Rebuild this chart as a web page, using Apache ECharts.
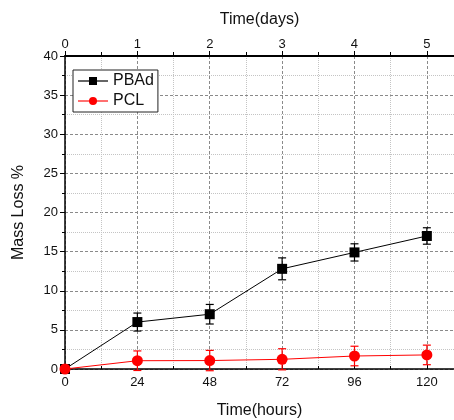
<!DOCTYPE html>
<html>
<head>
<meta charset="utf-8">
<script src="https://cdn.jsdelivr.net/npm/echarts@6/dist/echarts.min.js"></script>
<style>
html,body{margin:0;padding:0;background:#fff;}
#c{width:454px;height:420px;}
</style>
</head>
<body>
<div id="c"></div>
<script>
const hours = [0, 24, 48, 72, 96, 120];
const pbad = [0, 6.0, 7.0, 12.8, 14.9, 17.0];
const pbadErr = [0, 1.15, 1.25, 1.4, 1.1, 1.05];
const pcl = [0, 1.06, 1.08, 1.24, 1.66, 1.8];
const pclErr = [0, 1.25, 1.3, 1.35, 1.25, 1.25];
const dayTicks = [0, 1, 2, 3, 4, 5];
const hourTicks = [0, 24, 48, 72, 96, 120];

const FONT = '"Liberation Sans", Arial, sans-serif';
const chart = echarts.init(document.getElementById('c'), null, {renderer: 'canvas'});

function errData(vals, errs) {
  return hours.map((h, i) => [h, vals[i] - errs[i], vals[i] + errs[i]]);
}
function errRender(color) {
  return function (params, api) {
    const x = api.value(0), lo = api.value(1), hi = api.value(2);
    if (hi - lo <= 0) return null;
    const a = api.coord([x, hi]);
    const b = api.coord([x, lo]);
    const w = 4;
    const st = {stroke: color, lineWidth: 1.2};
    return {
      type: 'group',
      children: [
        {type: 'line', shape: {x1: a[0], y1: a[1], x2: b[0], y2: b[1]}, style: st},
        {type: 'line', shape: {x1: a[0] - w, y1: a[1], x2: a[0] + w, y2: a[1]}, style: st},
        {type: 'line', shape: {x1: b[0] - w, y1: b[1], x2: b[0] + w, y2: b[1]}, style: st}
      ]
    };
  };
}

const hMax = 129;
const splitMajor = {show: true, lineStyle: {color: '#8a8a8a', type: [3, 2], width: 1}};
const splitMinor = {show: true, lineStyle: {color: '#c4c4c4', type: [1, 1], width: 1}};

chart.setOption({
  animation: false,
  textStyle: {fontFamily: FONT},
  grid: {left: 65, right: 0, top: 56, bottom: 51, containLabel: false, outerBoundsMode: 'none'},
  legend: {
    data: [
      {name: 'PBAd', lineStyle: {color: '#666'}},
      {name: 'PCL', lineStyle: {color: '#ff7070'}}
    ],
    orient: 'vertical',
    left: 73, top: 70,
    itemWidth: 30, itemHeight: 10,
    itemGap: 4,
    padding: [3, 4, 3, 4],
    borderColor: '#222', borderWidth: 1,
    backgroundColor: '#fff',
    textStyle: {fontSize: 16, color: '#111', fontFamily: FONT}
  },
  xAxis: [
    {
      type: 'value', position: 'bottom', min: 0, max: hMax, interval: 24,
      name: 'Time(hours)', nameLocation: 'middle', nameGap: 34,
      nameTextStyle: {fontSize: 16, color: '#111'},
      axisLine: {show: true, onZero: false, lineStyle: {color: '#000', width: 1.5}},
      axisTick: {show: true, inside: true, length: 4, lineStyle: {color: '#000'}},
      minorTick: {show: true, splitNumber: 2, length: 3, lineStyle: {color: '#000'}},
      axisLabel: {fontSize: 13, color: '#111', margin: 7, showMaxLabel: false,
        formatter: v => hourTicks.indexOf(v) >= 0 ? String(v) : ''},
      splitLine: splitMajor,
      minorSplitLine: splitMinor
    },
    {
      type: 'value', position: 'top', min: 0, max: hMax / 24, interval: 1,
      name: 'Time(days)', nameLocation: 'middle', nameGap: 28,
      nameTextStyle: {fontSize: 16, color: '#111'},
      axisLine: {show: true, onZero: false, lineStyle: {color: '#000', width: 2}},
      axisTick: {show: true, length: 5, lineStyle: {color: '#000'}},
      minorTick: {show: true, splitNumber: 2, length: 4, lineStyle: {color: '#000'}},
      axisLabel: {fontSize: 13, color: '#111', margin: 5, showMaxLabel: false,
        formatter: v => dayTicks.indexOf(v) >= 0 ? String(v) : ''},
      splitLine: {show: false}
    }
  ],
  yAxis: {
    type: 'value', min: 0, max: 40, interval: 5,
    name: 'Mass Loss %', nameLocation: 'middle', nameGap: 38, nameRotate: 90,
    nameTextStyle: {fontSize: 16, color: '#111'},
    axisLine: {show: true, lineStyle: {color: '#000', width: 1.5}},
    axisTick: {show: true, length: 5, lineStyle: {color: '#000'}},
    minorTick: {show: true, splitNumber: 2, length: 3, lineStyle: {color: '#000'}},
    axisLabel: {fontSize: 13, color: '#111', margin: 7},
    splitLine: splitMajor,
    minorSplitLine: splitMinor
  },
  series: [
    {
      type: 'custom', name: 'PBAd err', xAxisIndex: 0, clip: false, z: 3,
      renderItem: errRender('#000'),
      data: errData(pbad, pbadErr), silent: true
    },
    {
      type: 'custom', name: 'PCL err', xAxisIndex: 0, clip: false, z: 3,
      renderItem: errRender('#ff0000'),
      data: errData(pcl, pclErr), silent: true
    },
    {
      type: 'line', name: 'PBAd', xAxisIndex: 0, z: 4,
      data: hours.map((h, i) => [h, pbad[i]]),
      symbol: 'rect', symbolSize: 10,
      lineStyle: {color: '#000', width: 1},
      itemStyle: {color: '#000'}
    },
    {
      type: 'line', name: 'PCL', xAxisIndex: 0, z: 5,
      data: hours.map((h, i) => [h, pcl[i]]),
      symbol: 'circle', symbolSize: 11,
      lineStyle: {color: '#ff0000', width: 1},
      itemStyle: {color: '#ff0000'}
    }
  ]
});
</script>
</body>
</html>
